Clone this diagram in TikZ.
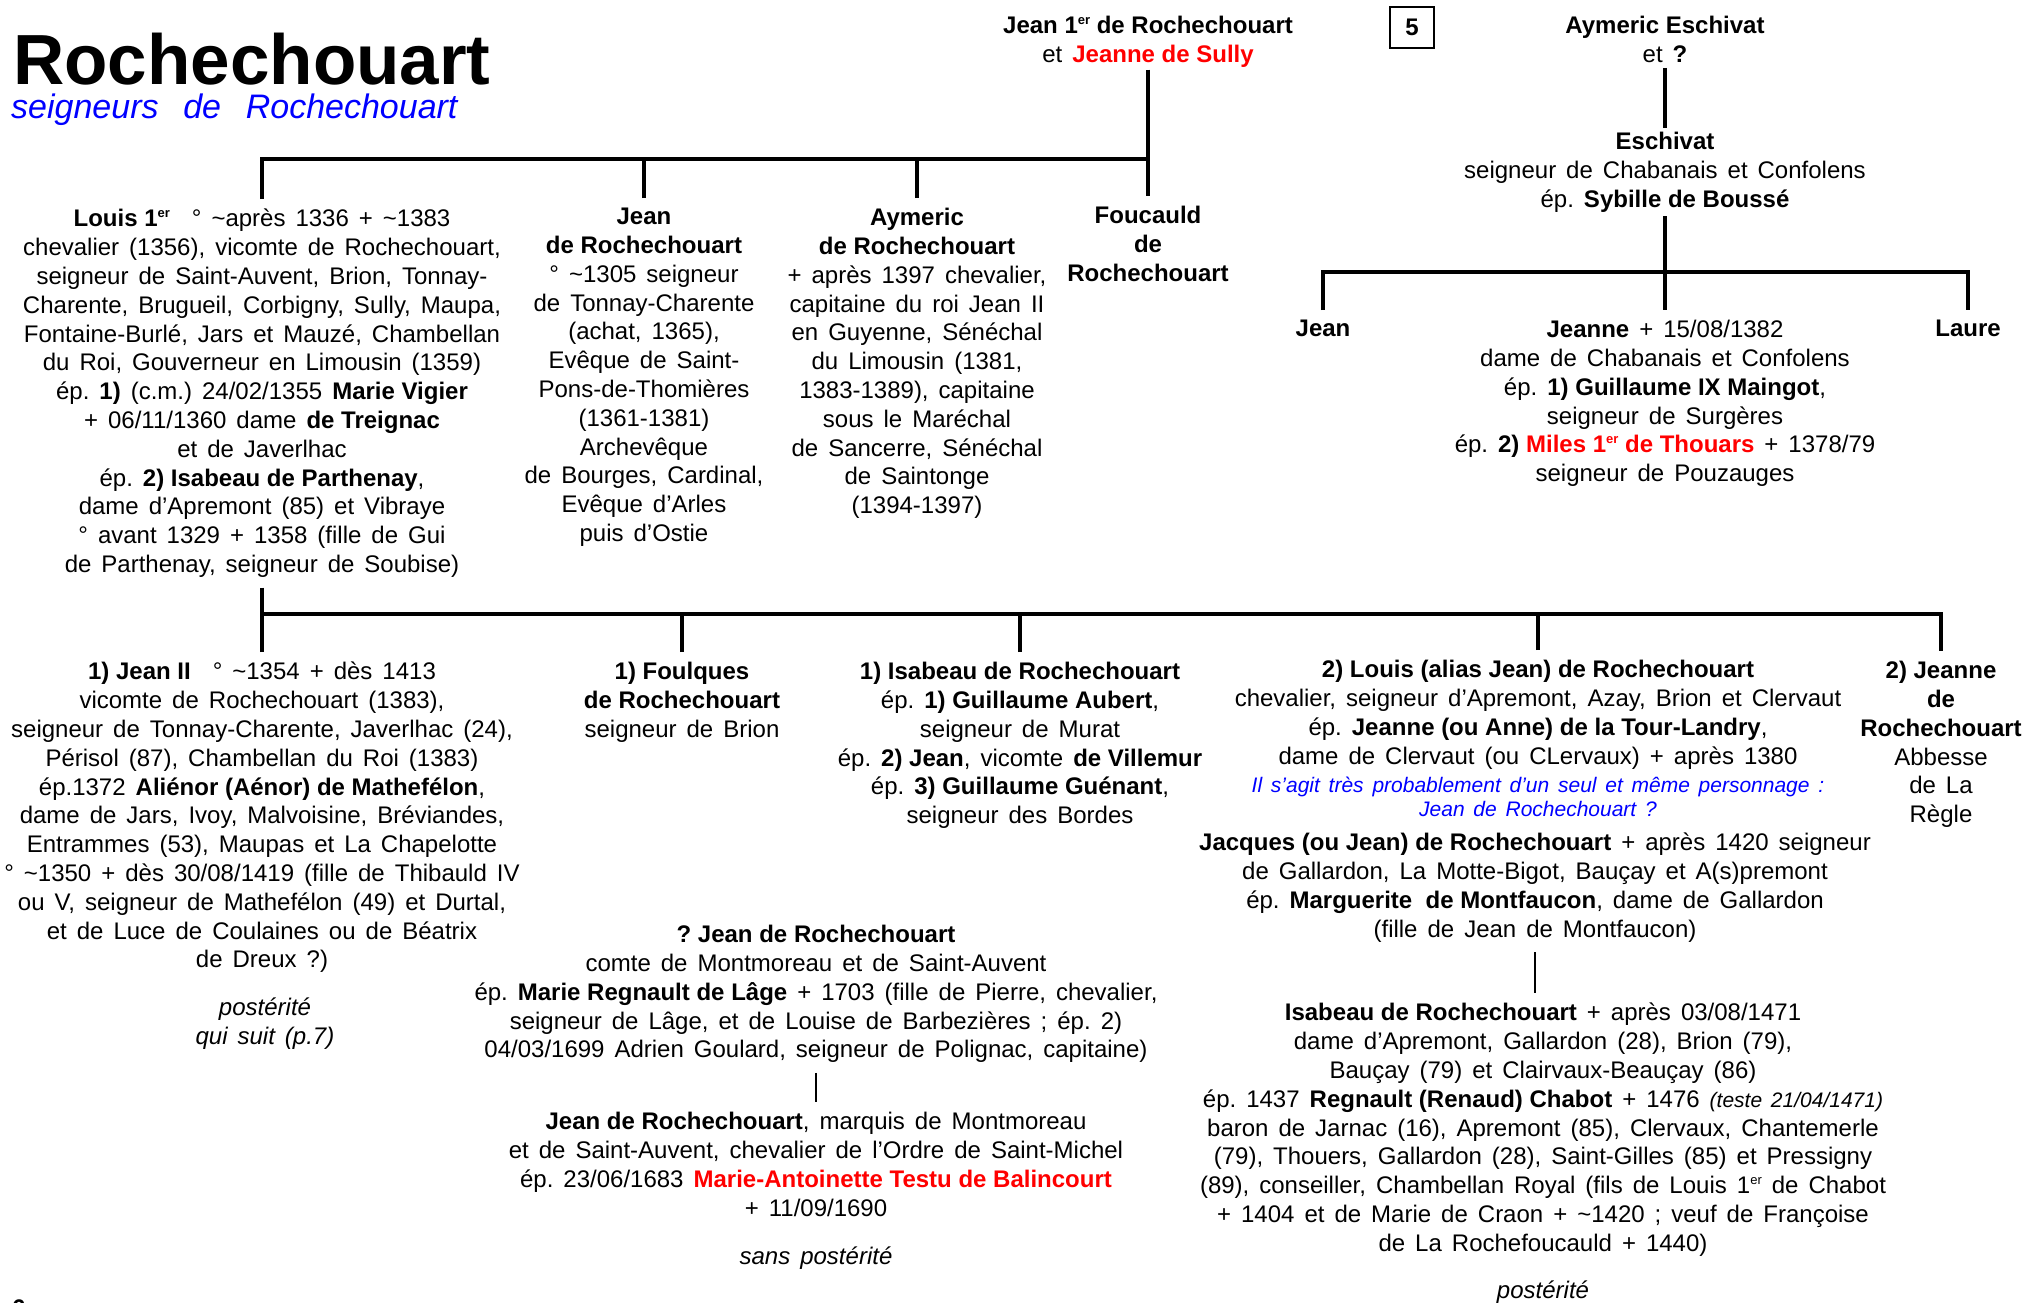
\documentclass[tikz,border=0pt]{standalone}
\usepackage{fontspec}
\setmainfont{Liberation Sans}[UprightFeatures={WordSpace=1.5}, ItalicFeatures={WordSpace=1.5}]
\frenchspacing
\definecolor{rouge}{RGB}{255,0,0}
\definecolor{bleu}{RGB}{0,0,255}
\newcommand{\env}{\textasciitilde}
\newcommand{\er}{\raisebox{0.75ex}{\fontsize{13}{13}\selectfont er}}
\tikzset{
  pers/.style={font=\fontsize{24}{28.8}\selectfont, align=center, inner xsep=0pt, inner ysep=10pt, anchor=north},
  ital/.style={font=\fontsize{24}{28.8}\selectfont\itshape, align=center, inner sep=0pt},
  lien/.style={line width=3.2pt},
  fin/.style={line width=2.2pt},
}
\begin{document}
\begin{tikzpicture}[x=1pt,y=-1pt]
    \useasboundingbox (0,0) rectangle (2024,1302);
    \fill[white] (0,0) rectangle (2024,1302);

    % Titre
    \node (titre) at (13,84) [anchor=base west, inner sep=0pt, text depth=0pt, font=\fontsize{71}{72}\selectfont\bfseries] {Rochechouart};
    \node (soustitre) at (11,118) [anchor=base west, inner sep=0pt, text=bleu, font=\fontsize{34}{36}\selectfont\itshape] {seigneurs\hspace{0.31em} de\hspace{0.31em} Rochechouart};
    \node (page) at (1412,27) [draw, line width=2pt, minimum width=44pt, minimum height=41pt, inner sep=0pt, font=\fontsize{24}{28.8}\selectfont\bfseries] {5};
    \node (pagesuiv) at (12,1316) [anchor=base west, inner sep=0pt, font=\fontsize{24}{28.8}\selectfont\bfseries] {6};

    % Parents
    \node (jeanI) at (1148,14) [pers, inner ysep=2pt] {\textbf{Jean 1\er{} de Rochechouart}\\ et \textbf{\textcolor{rouge}{Jeanne de Sully}}};
    \node (aymE) at (1665,11) [pers, inner ysep=5pt] {\textbf{Aymeric Eschivat}\\ et \textbf{?}};
    \node (esch) at (1665,128) [pers, inner ysep=4pt] {\textbf{Eschivat}\\ seigneur de Chabanais et Confolens\\ ép. \textbf{Sybille de Boussé}};

    % Enfants de Jean 1er
    \node (louis) at (262,199) [pers] {\textbf{Louis 1\er}\hspace{0.5em} ° \env après 1336 + \env1383\\
        chevalier (1356), vicomte de Rochechouart,\\
        seigneur de Saint-Auvent, Brion, Tonnay-\\
        Charente, Brugueil, Corbigny, Sully, Maupa,\\
        Fontaine-Burlé, Jars et Mauzé, Chambellan\\
        du Roi, Gouverneur en Limousin (1359)\\
        ép. \textbf{1)} (c.m.) 24/02/1355 \textbf{Marie Vigier}\\
        + 06/11/1360 dame \textbf{de Treignac}\\
        et de Javerlhac\\
        ép. \textbf{2) Isabeau de Parthenay},\\
        dame d’Apremont (85) et Vibraye\\
        ° avant 1329 + 1358 (fille de Gui\\
        de Parthenay, seigneur de Soubise)};
    \node (jeanR) at (644,198) [pers] {\textbf{Jean}\\ \textbf{de Rochechouart}\\
        ° \env1305 seigneur\\ de Tonnay-Charente\\ (achat, 1365),\\ Evêque de Saint-\\
        Pons-de-Thomières\\ (1361-1381)\\ Archevêque\\ de Bourges, Cardinal,\\
        Evêque d’Arles\\ puis d’Ostie};
    \node (aymR) at (917,198) [pers] {\textbf{Aymeric}\\ \textbf{de Rochechouart}\\
        + après 1397 chevalier,\\ capitaine du roi Jean II\\ en Guyenne, Sénéchal\\
        du Limousin (1381,\\ 1383-1389), capitaine\\ sous le Maréchal\\
        de Sancerre, Sénéchal\\ de Saintonge\\ (1394-1397)};
    \node (fouc) at (1148,196) [pers] {\textbf{Foucauld}\\ \textbf{de}\\ \textbf{Rochechouart}};

    % Enfants d'Eschivat
    \node (jeanE) at (1323,310) [pers] {\textbf{Jean}};
    \node (jeanne) at (1665,310) [pers] {\textbf{Jeanne} + 15/08/1382\\
        dame de Chabanais et Confolens\\
        ép. \textbf{1) Guillaume IX Maingot},\\
        seigneur de Surgères\\
        ép. \textbf{2) \textcolor{rouge}{Miles 1\er{} de Thouars}} + 1378/79\\
        seigneur de Pouzauges};
    \node (laure) at (1968,310) [pers] {\textbf{Laure}};

    % Enfants de Louis 1er
    \node (jeanII) at (262,652) [pers] {\textbf{1) Jean II}\hspace{0.5em} ° \env1354 + dès 1413\\
        vicomte de Rochechouart (1383),\\
        seigneur de Tonnay-Charente, Javerlhac (24),\\
        Périsol (87), Chambellan du Roi (1383)\\
        ép.1372 \textbf{Aliénor (Aénor) de Mathefélon},\\
        dame de Jars, Ivoy, Malvoisine, Bréviandes,\\
        Entrammes (53), Maupas et La Chapelotte\\
        ° \env1350 + dès 30/08/1419 (fille de Thibauld IV\\
        ou V, seigneur de Mathefélon (49) et Durtal,\\
        et de Luce de Coulaines ou de Béatrix\\
        de Dreux ?)};
    \node (suite) at (265,1024) [ital] {postérité\\ qui suit (p.7)};
    \node (foulq) at (682,652) [pers] {\textbf{1) Foulques}\\ \textbf{de Rochechouart}\\ seigneur de Brion};
    \node (isab) at (1020,652) [pers] {\textbf{1) Isabeau de Rochechouart}\\
        ép. \textbf{1) Guillaume Aubert},\\ seigneur de Murat\\
        ép. \textbf{2) Jean}, vicomte \textbf{de Villemur}\\
        ép. \textbf{3) Guillaume Guénant},\\ seigneur des Bordes};
    \node (louisA) at (1538,650) [pers] {\textbf{2) Louis (alias Jean) de Rochechouart}\\
        chevalier, seigneur d’Apremont, Azay, Brion et Clervaut\\
        ép. \textbf{Jeanne (ou Anne) de la Tour-Landry},\\
        dame de Clervaut (ou CLervaux) + après 1380};
    \node (note) at (1538,797) [inner sep=0pt, align=center, text=bleu, font=\fontsize{21}{24.5}\selectfont\itshape] {Il s’agit très probablement d’un seul et même personnage :\\ Jean de Rochechouart ?};
    \node (jeanneR) at (1941,651) [pers] {\textbf{2) Jeanne}\\ \textbf{de}\\ \textbf{Rochechouart}\\ Abbesse\\ de La\\ Règle};

    % Descendance
    \node (jacques) at (1535,823) [pers] {\textbf{Jacques (ou Jean) de Rochechouart} + après 1420 seigneur\\
        de Gallardon, La Motte-Bigot, Bauçay et A(s)premont\\
        ép. \textbf{Marguerite\ \ de Montfaucon}, dame de Gallardon\\
        (fille de Jean de Montfaucon)};
    \node (isabR) at (1543,993) [pers] {\textbf{Isabeau de Rochechouart} + après 03/08/1471\\
        dame d’Apremont, Gallardon (28), Brion (79),\\
        Bauçay (79) et Clairvaux-Beauçay (86)\\
        ép. 1437 \textbf{Regnault (Renaud) Chabot} + 1476 {\fontsize{21}{24}\selectfont\itshape (teste 21/04/1471)}\\
        baron de Jarnac (16), Apremont (85), Clervaux, Chantemerle\\
        (79), Thouers, Gallardon (28), Saint-Gilles (85) et Pressigny\\
        (89), conseiller, Chambellan Royal (fils de Louis 1\er{} de Chabot\\
        + 1404 et de Marie de Craon + \env1420 ; veuf de Françoise\\
        de La Rochefoucauld + 1440)};
    \node (post) at (1543,1292) [ital] {postérité};
    \node (jeanQ) at (816,915) [pers] {\textbf{? Jean de Rochechouart}\\
        comte de Montmoreau et de Saint-Auvent\\
        ép. \textbf{Marie Regnault de Lâge} + 1703 (fille de Pierre, chevalier,\\
        seigneur de Lâge, et de Louise de Barbezières ; ép. 2)\\
        04/03/1699 Adrien Goulard, seigneur de Polignac, capitaine)};
    \node (jeanM) at (816,1102) [pers] {\textbf{Jean de Rochechouart}, marquis de Montmoreau\\
        et de Saint-Auvent, chevalier de l’Ordre de Saint-Michel\\
        ép. 23/06/1683 \textbf{\textcolor{rouge}{Marie-Antoinette Testu de Balincourt}}\\
        + 11/09/1690};
    \node (sans) at (816,1258) [ital] {sans postérité};

    % Lignes
    \coordinate (barA) at (0,159);
    \coordinate (barB) at (0,272);
    \coordinate (barC) at (0,614);
    \draw[lien] (louis.north) -- (louis.north |- barA) -- (fouc.north |- barA) -- (fouc.north);
    \draw[lien] (jeanI.south) -- (jeanI.south |- barA);
    \foreach \n in {jeanR,aymR}
        \draw[lien] (\n.north) -- (\n.north |- barA);
    \draw[lien] (aymE.south) -- (esch.north);
    \draw[lien] (jeanE.north) -- (jeanE.north |- barB) -- (laure.north |- barB) -- (laure.north);
    \draw[lien] (esch.south) -- (jeanne.north);
    \draw[lien] (louis.south) -- (louis.south |- barC);
    \draw[lien] (jeanII.north) -- (jeanII.north |- barC) -- (jeanneR.north |- barC) -- (jeanneR.north);
    \foreach \n in {foulq,isab,louisA}
        \draw[lien] (\n.north) -- (\n.north |- barC);
    \draw[fin] (jacques.south) -- (jacques.south |- isabR.north);
    \draw[fin] (jeanQ.south) -- (jeanM.north);
\end{tikzpicture}
\end{document}
